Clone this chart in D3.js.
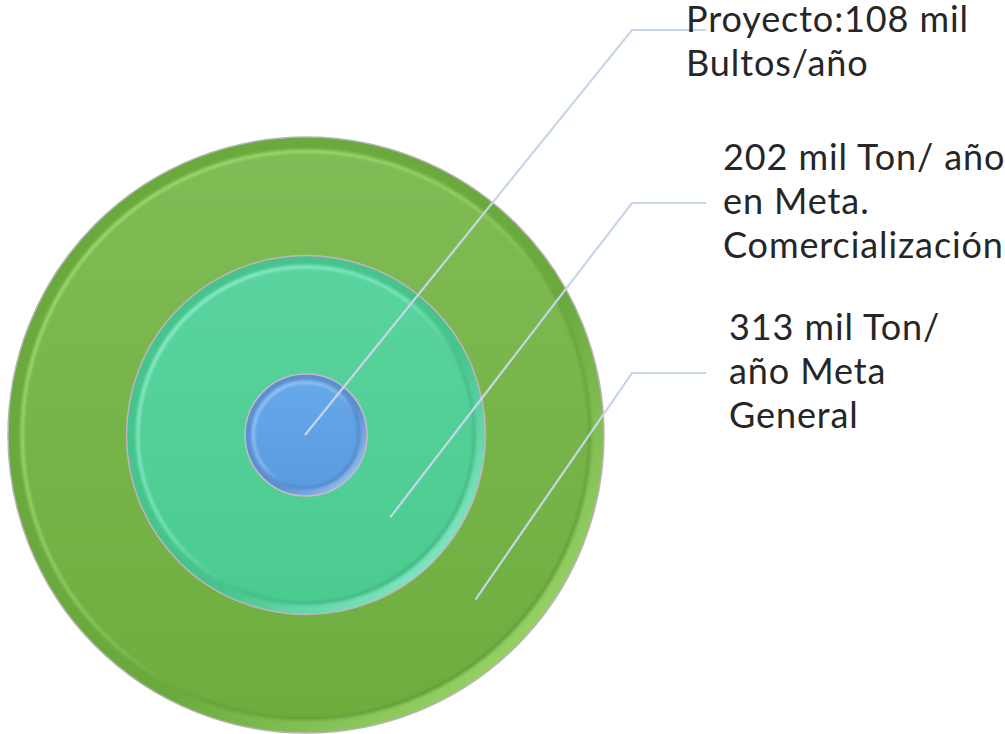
<!DOCTYPE html>
<html>
<head>
<meta charset="utf-8">
<script src="https://cdn.jsdelivr.net/npm/d3@7"></script>
<style>
  body { margin: 0; background: #fff; }
  svg text { font-family: Lato, "Open Sans", sans-serif; fill: #262626; }
</style>
</head>
<body>
<div id="chart"></div>
<script>
// data
var levels = ["Proyecto", "Comercialización", "General"];
var labelLines = [
    ["Proyecto:108 mil", "Bultos/año"],
    ["202 mil Ton/ año", "en Meta.", "Comercialización"],
    ["313 mil Ton/", "año Meta", "General"]
];

var width = 1005;
var height = 734;
var cx = 306, cy = 435;

var ringColors = [
    { rim: "#5a8fd2", top: "#66a8ea", bottom: "#5a9be0", light: "#a9d4fa", dark: "#4a7fc0", edge: "#c9b8c8" },
    { rim: "#46c48c", top: "#5ad49e", bottom: "#4acb90", light: "#9ff6dc", dark: "#3bb07c", edge: "#c8b0c0" },
    { rim: "#6aa93d", top: "#80bc55", bottom: "#6dad3e", light: "#aee67c", dark: "#5c9735", edge: "#b8b4b4" }
];

// radius per level
var radiusScale = d3.scaleLinear()
    .domain([0, levels.length - 1])
    .range([61, 298]);

// leader line layout
var elbowX = 632, lineEndX = 706;
var elbowY = [30, 203, 373];
var labelPos = [
    { x: 686, y: 32 },
    { x: 723, y: 170 },
    { x: 729, y: 340 }
];
var lineHeight = 44;
var angle = 44 * Math.PI / 180;

var svg = d3.select("#chart").append("svg")
    .attr("width", width)
    .attr("height", height);

var defs = svg.append("defs");

defs.append("filter").attr("id", "soft")
    .attr("x", "-10%").attr("y", "-10%").attr("width", "120%").attr("height", "120%")
    .append("feGaussianBlur").attr("stdDeviation", 1.6);

ringColors.forEach(function(c, i) {
    var rim = defs.append("linearGradient").attr("id", "rim" + i)
        .attr("x1", 0).attr("y1", 0).attr("x2", 1).attr("y2", 1);
    rim.append("stop").attr("offset", "0%").attr("stop-color", c.rim);
    rim.append("stop").attr("offset", "60%").attr("stop-color", c.rim);
    rim.append("stop").attr("offset", "100%").attr("stop-color", c.light);

    var face = defs.append("linearGradient").attr("id", "face" + i)
        .attr("x1", 0).attr("y1", 0).attr("x2", 0).attr("y2", 1);
    face.append("stop").attr("offset", "0%").attr("stop-color", c.top);
    face.append("stop").attr("offset", "100%").attr("stop-color", c.bottom);

    var bevel = defs.append("linearGradient").attr("id", "bevel" + i)
        .attr("x1", 0).attr("y1", 0).attr("x2", 1).attr("y2", 1);
    bevel.append("stop").attr("offset", "0%").attr("stop-color", c.light);
    bevel.append("stop").attr("offset", "45%").attr("stop-color", c.light).attr("stop-opacity", 0.6);
    bevel.append("stop").attr("offset", "65%").attr("stop-color", c.dark).attr("stop-opacity", 0.6);
    bevel.append("stop").attr("offset", "100%").attr("stop-color", c.dark);
});

// draw from outer to inner
var order = d3.range(levels.length).reverse();

var rings = svg.selectAll(".ring")
    .data(order).enter()
    .append("g")
    .attr("class", "ring");

rings.append("circle")
    .attr("cx", cx).attr("cy", cy)
    .attr("r", d => radiusScale(d))
    .attr("fill", d => "url(#rim" + d + ")")
    .attr("stroke", d => ringColors[d].edge)
    .attr("stroke-width", 1.5);

var inset = d => d === 0 ? 8 : (d === 1 ? 11 : 14);

rings.append("circle")
    .attr("cx", cx).attr("cy", cy)
    .attr("r", d => radiusScale(d) - inset(d))
    .attr("fill", d => "url(#face" + d + ")");

rings.append("circle")
    .attr("cx", cx).attr("cy", cy)
    .attr("r", d => radiusScale(d) - inset(d))
    .attr("fill", "none")
    .attr("stroke", d => "url(#bevel" + d + ")")
    .attr("stroke-width", 3)
    .attr("filter", "url(#soft)");

// leader lines
svg.selectAll(".leader")
    .data(levels).enter()
    .append("polyline")
    .attr("class", "leader")
    .attr("fill", "none")
    .attr("stroke", "#c6d6e8")
    .attr("stroke-width", 2.2)
    .attr("points", function(d, i) {
        var dist = radiusScale(i) - radiusScale(0);
        var x0 = cx + dist * Math.cos(angle) - 1;
        var y0 = cy + dist * Math.sin(angle);
        return [[x0, y0], [elbowX, elbowY[i]], [lineEndX, elbowY[i]]].join(" ");
    });

// labels
var labels = svg.selectAll(".label")
    .data(labelLines).enter()
    .append("text")
    .attr("class", "label")
    .attr("x", (d, i) => labelPos[i].x)
    .attr("y", (d, i) => labelPos[i].y)
    .style("font-size", "36px")
    .style("letter-spacing", "0.9px");

labels.selectAll("tspan")
    .data(d => d).enter()
    .append("tspan")
    .attr("x", function() { return this.parentNode.getAttribute("x"); })
    .attr("dy", (d, j) => j === 0 ? 0 : lineHeight)
    .text(d => d);
</script>
</body>
</html>
